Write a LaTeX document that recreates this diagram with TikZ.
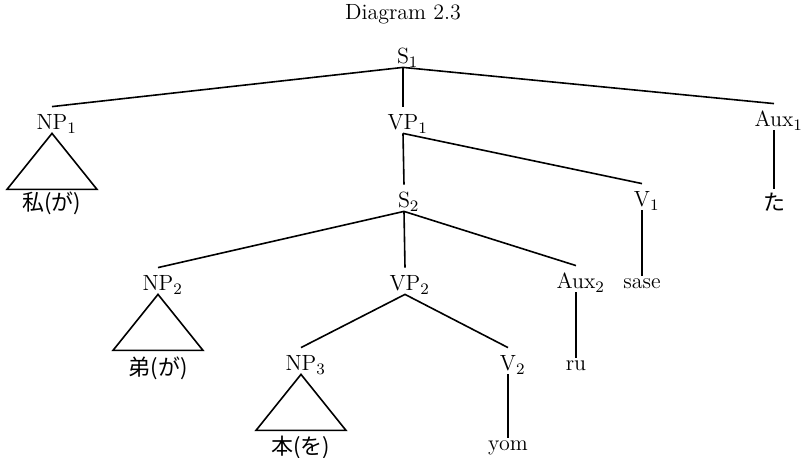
\documentclass[tikz,border=0pt]{standalone}
\usepackage{fontspec}
\usepackage{tikz}
\newfontfamily\jp{Noto Sans CJK JP}

\begin{document}
\begin{tikzpicture}[x=0.5pt, y=-0.5pt,
    every node/.style={font=\fontsize{11}{13}\selectfont, inner xsep=1pt, inner ysep=1.5pt},
    cat/.style={anchor=base, text height=10pt, text depth=0pt},
    leaf/.style={anchor=base},
    branch/.style={line width=.8pt}]
  \useasboundingbox (0,0) rectangle (805,458);
  \node[anchor=base] (title) at (403,20) {Diagram 2.3};

  % categories
  \node[cat] (s1)   at (403,64)  {S\rlap{$_1$}};
  \node[cat] (np1)  at (52,130)  {NP\rlap{$_1$}};
  \node[cat] (vp1)  at (403,130) {VP\rlap{$_1$}};
  \node[cat] (aux1) at (774,127) {Aux\rlap{$_1$}};
  \node[cat] (s2)   at (404,208) {S\rlap{$_2$}};
  \node[cat] (v1)   at (642,207) {V\rlap{$_1$}};
  \node[cat] (np2)  at (158,291) {NP\rlap{$_2$}};
  \node[cat] (vp2)  at (405,291) {VP\rlap{$_2$}};
  \node[cat] (aux2) at (576,289) {Aux\rlap{$_2$}};
  \node[cat] (np3)  at (301,371) {NP\rlap{$_3$}};
  \node[cat] (v2)   at (508,371) {V\rlap{$_2$}};

  % words
  \node (watashi) at (52,203)  {\jp 私(が)};
  \node (ta)      at (774,202) {\jp た};
  \node[leaf] (sase) at (642,289) {sase};
  \node (otouto)  at (158,368) {\jp 弟(が)};
  \node[leaf] (ru)   at (576,371) {ru};
  \node (hon)     at (301,447) {\jp 本(を)};
  \node[leaf] (yom)  at (508,451) {yom};

  % branches
  \draw[branch] (np1.north) -- (s1.south) -- (aux1.north);
  \draw[branch] (s1.south) -- (vp1.north);
  \draw[branch] (vp1.south) -- (s2.north);
  \draw[branch] (vp1.south) -- (v1.north);
  \draw[branch] (aux1.south) -- (ta.north);
  \draw[branch] (v1.south) -- (sase.north);
  \draw[branch] (np2.north) -- (s2.south) -- (aux2.north);
  \draw[branch] (s2.south) -- (vp2.north);
  \draw[branch] (aux2.south) -- (ru.north);
  \draw[branch] (np3.north) -- (vp2.south) -- (v2.north);
  \draw[branch] (v2.south) -- (yom.north);

  % triangles
  \draw[branch] (np1.south) -- ++(-45,56) -- ++(90,0) -- cycle;
  \draw[branch] (np2.south) -- ++(-45,56) -- ++(90,0) -- cycle;
  \draw[branch] (np3.south) -- ++(-45,56) -- ++(90,0) -- cycle;
\end{tikzpicture}
\end{document}
